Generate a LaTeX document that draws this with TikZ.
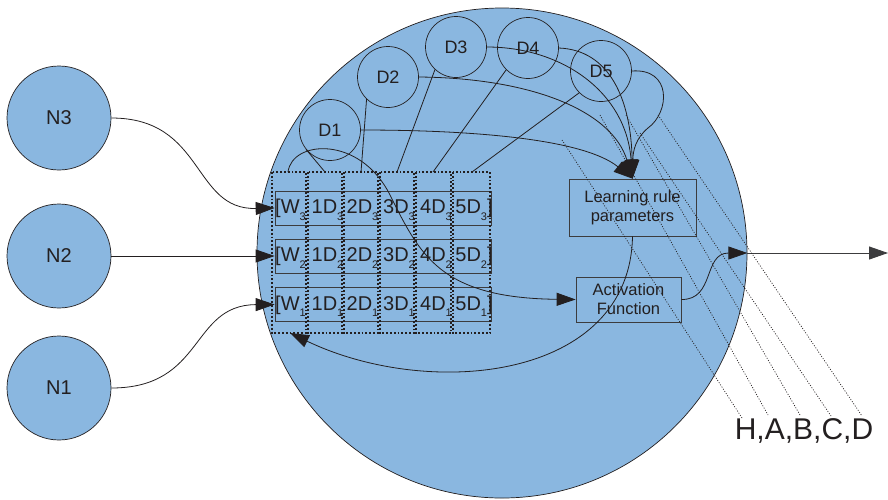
\documentclass[tikz,border=0pt]{standalone}
\usepackage{fontspec}
\setmainfont{Liberation Sans}
\usetikzlibrary{arrows.meta}

\definecolor{cellblue}{RGB}{138,183,224}
\definecolor{ink}{RGB}{35,31,32}
\definecolor{edge}{RGB}{60,60,62}

% lowered small index after a symbol
\newcommand\sbs[1]{\raisebox{-6.5pt}{\fontsize{11}{11}\selectfont #1}}

\begin{document}
\begin{tikzpicture}[x=1pt,y=-1pt,
  neuron/.style={circle,draw=ink,fill=cellblue,line width=0.7pt,minimum size=104pt,
    inner sep=0pt,font=\fontsize{20}{24}\selectfont,text=ink},
  dnode/.style={circle,draw=ink,line width=0.7pt,minimum size=61pt,inner sep=0pt,
    font=\fontsize{18}{20}\selectfont,text=ink},
  fbox/.style={rectangle,draw=edge,fill=cellblue,line width=0.7pt,inner sep=0pt,
    align=center,font=\fontsize{16.5}{19}\selectfont,text=ink},
  rowbox/.style={rectangle,draw=edge,line width=0.7pt,inner sep=0pt,
    minimum width=216pt,minimum height=34pt},
  colbox/.style={draw=ink,line width=1.8pt,dash pattern=on 1.8pt off 2pt},
  celltext/.style={anchor=base,inner sep=0pt,font=\fontsize{20}{22}\selectfont,text=ink},
  conn/.style={draw=ink,line width=0.8pt},
  arr/.style={-{Triangle[length=19pt,width=13pt]}},
  tap/.style={draw=ink,line width=0.7pt,dash pattern=on 1pt off 1.6pt},
]
\useasboundingbox (0,0) rectangle (888,499);

% cell body
\node[circle,draw=ink,fill=cellblue,line width=0.7pt,minimum size=490pt,inner sep=0pt] (cell) at (502,253) {};

% input neurons
\node[neuron] (N3) at (59,118) {N3};
\node[neuron] (N2) at (59,256) {N2};
\node[neuron] (N1) at (59,388) {N1};

% delay units
\node[dnode] (D1) at (330,130) {D1};
\node[dnode] (D2) at (388,77) {D2};
\node[dnode] (D3) at (456,47) {D3};
\node[dnode] (D4) at (528,48) {D4};
\node[dnode] (D5) at (601,71) {D5};

% processing boxes
\node[fbox,minimum width=127pt,minimum height=57pt] (learn) at (632.5,207.5) {Learning rule\\parameters};
\node[fbox,minimum width=105pt,minimum height=45pt] (act) at (628.5,299.5) {Activation\\Function};

% weight rows
\node[rowbox] (row3) at (383,208) {};
\node[rowbox] (row2) at (383,256) {};
\node[rowbox] (row1) at (383,304.5) {};

% delay columns (dotted frames)
\draw[colbox] (272,172) rectangle (306,333);
\draw[colbox] (308,172) rectangle (342,333);
\draw[colbox] (344,172) rectangle (378,333);
\draw[colbox] (380,172) rectangle (414,333);
\draw[colbox] (416,172) rectangle (451,333);
\draw[colbox] (453,172) rectangle (490,333);

% cell entries
\foreach \r/\y in {3/213.5,2/261.7,1/310}{
  \node[celltext] (w\r) at (290.5,\y) {[W\sbs{\r}};
  \node[celltext] (a\r) at (327.5,\y) {1D\sbs{\r}};
  \node[celltext] (b\r) at (362.5,\y) {2D\sbs{\r}};
  \node[celltext] (c\r) at (399,\y) {3D\sbs{\r}};
  \node[celltext] (d\r) at (436,\y) {4D\sbs{\r}};
  \node[celltext] (e\r) at (474,\y) {5D\sbs{\r}]};
}

% free ends of connectors
\coordinate (top1) at (325,172);
\coordinate (top2) at (361,172);
\coordinate (top3) at (397,172);
\coordinate (top4) at (433,172);
\coordinate (top5) at (472,172);
\coordinate (arcstart) at (288,172);
\coordinate (retend) at (290,333);
\coordinate (outend) at (888,253);

% inputs
\draw[conn,arr] (N3.east) .. controls (205,118) and (192,210) .. (row3.west);
\draw[conn,arr] (N2.east) -- (row2.west);
\draw[conn,arr] (N1.east) .. controls (205,388) and (190,305) .. (row1.west);

% delay taps into the grid
\draw[conn] (D1.219) -- (top1);
\draw[conn] (D2.226) -- (top2);
\draw[conn] (D3.227) -- (top3);
\draw[conn] (D4.225) -- (top4);
\draw[conn] (D5.225) -- (top5);

% delay outputs to the learning rule
\draw[conn,arr] (D1.east) .. controls (480,130) and (585,140) .. (learn.north);
\draw[conn,arr] (D2.east) .. controls (530,78) and (612,110) .. (learn.north);
\draw[conn,arr] (D3.east) .. controls (562,47) and (626,92) .. (learn.north);
\draw[conn,arr] (D4.east) .. controls (610,50) and (631,100) .. (learn.north);
\draw[conn,arr] (D5.east) .. controls (672,68) and (670,112) .. (648,128)
  .. controls (636,138) and (633,150) .. (learn.north);

% grid to activation
\draw[conn,arr] (arcstart) .. controls (292,140) and (360,135) .. (390,195)
  .. controls (420,255) and (440,298) .. (act.west);

% feedback from learning rule to weights
\draw[conn,arr] (learn.south) .. controls (630,380) and (430,400) .. (retend);

% output
\draw[conn,arr] (act.east) .. controls (715,300) and (703,253) .. (cell.east);
\draw[draw=edge,line width=0.9pt,arr] (cell.east) -- (outend);

% monitored signals
\node[inner sep=0pt,font=\fontsize{30}{32}\selectfont,text=ink] (lbl) at (804,431) {H,A,B,C,D};
\coordinate (h1) at (562,140); \coordinate (g1) at (742,418);
\coordinate (h2) at (600,115); \coordinate (g2) at (768,415);
\coordinate (h3) at (626,115); \coordinate (g3) at (800,415);
\coordinate (h4) at (640,133); \coordinate (g4) at (831,416);
\coordinate (h5) at (658,115); \coordinate (g5) at (862,416);
\foreach \i in {1,...,5}{\draw[tap] (h\i) -- (g\i);}
\end{tikzpicture}
\end{document}
